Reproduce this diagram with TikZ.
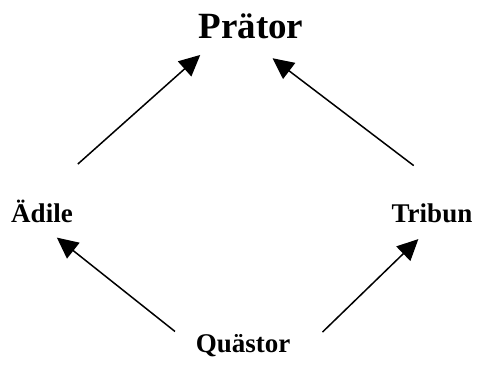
\documentclass[tikz,border=0pt]{standalone}
\usepackage{fontspec}
\setmainfont{Liberation Serif}
\usetikzlibrary{arrows.meta}

\begin{document}
\begin{tikzpicture}[x=1pt, y=-1pt,
	office/.style={font=\bfseries\fontsize{27}{31}\selectfont, anchor=base},
	link/.style={line width=1.5pt, arrows={-Triangle[length=21pt, width=20pt]}}]
	\useasboundingbox (0,0) rectangle (477,367);
	\node [office, font=\bfseries\fontsize{37}{43}\selectfont] (praetor) at (251,38) {Prätor};
	\node [office] (aedile) at (42,222) {Ädile};
	\node [office] (tribun) at (432,222) {Tribun};
	\node [office] (quaestor) at (243,352) {Quästor};
	\draw [link, shorten <=48pt, shorten >=68pt] (aedile.north) -- (praetor.north);
	\draw [link, shorten <=78pt, shorten >=27pt] (tribun.east) -- (praetor.south);
	\draw [link, shorten <=22pt, shorten >=19pt] (quaestor.west) -- (aedile.south);
	\draw [link, shorten <=40pt, shorten >=19pt] (quaestor.south east) -- (tribun.south);
\end{tikzpicture}
\end{document}
